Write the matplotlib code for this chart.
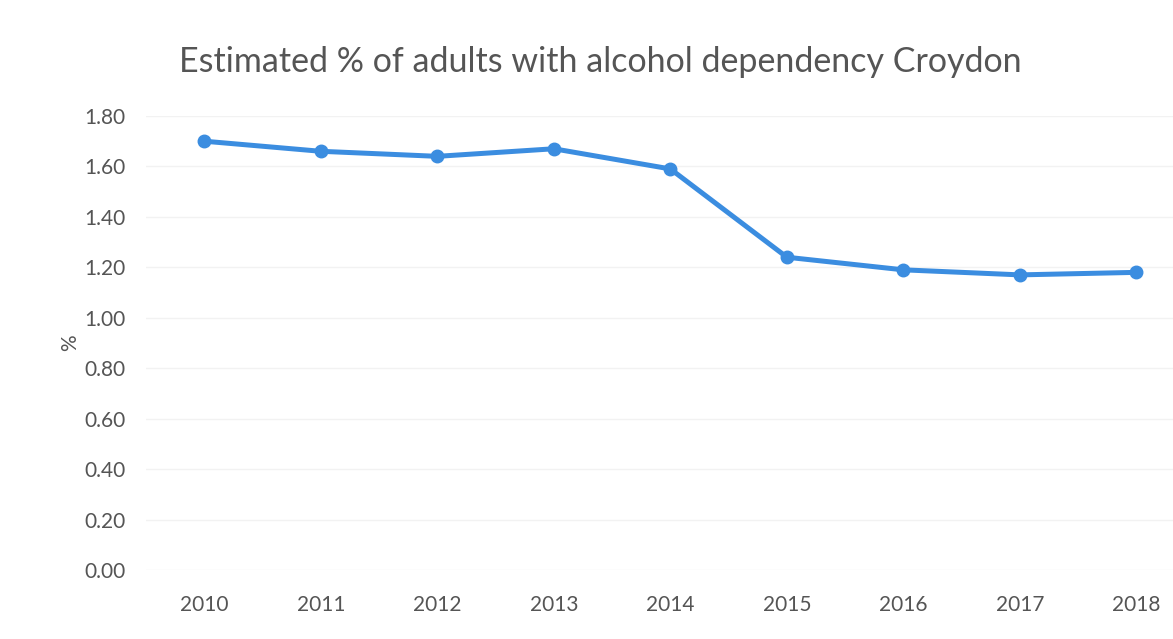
import matplotlib.pyplot as plt

# Datos
anios = ['2010', '2011', '2012', '2013', '2014', '2015', '2016', '2017', '2018']
porcentaje = [1.70, 1.66, 1.64, 1.67, 1.59, 1.24, 1.19, 1.17, 1.18]
ticks_y = [0.0, 0.2, 0.4, 0.6, 0.8, 1.0, 1.2, 1.4, 1.6, 1.8]

plt.rcParams['font.family'] = ['Lato', 'DejaVu Sans']

fig = plt.figure(figsize=(11.73, 6.39), dpi=100)
ax = fig.add_axes([0.1245, 0.108, 0.894, 0.7105])

x = list(range(len(anios)))
ax.plot(x, porcentaje, color='#3b8de0', linewidth=3.6, marker='o',
        markersize=9, markerfacecolor='#3b8de0', markeredgecolor='#3b8de0',
        solid_capstyle='round', zorder=3)

ax.set_xlim(-0.5, len(anios) - 0.5)
ax.set_ylim(0, 1.8)
ax.set_xticks(x)
ax.set_xticklabels(anios)
ax.set_yticks(ticks_y)
ax.set_yticklabels([f'{v:.2f}' for v in ticks_y])

ax.tick_params(axis='both', length=0, labelsize=15, colors='#555555')
ax.tick_params(axis='x', pad=18)
ax.tick_params(axis='y', pad=15)

ax.grid(axis='y', color='#f2f2f2', linewidth=1)
ax.set_axisbelow(True)
for s in ax.spines.values():
    s.set_visible(False)

# el "%" va un poco más pegado a las etiquetas
ax.set_ylabel('%', fontsize=15, color='#555555', labelpad=3)
fig.text(0.512, 0.903, 'Estimated % of adults with alcohol dependency Croydon',
         ha='center', va='center', fontsize=24.5, color='#555555')

plt.savefig('out.png', dpi=100)
